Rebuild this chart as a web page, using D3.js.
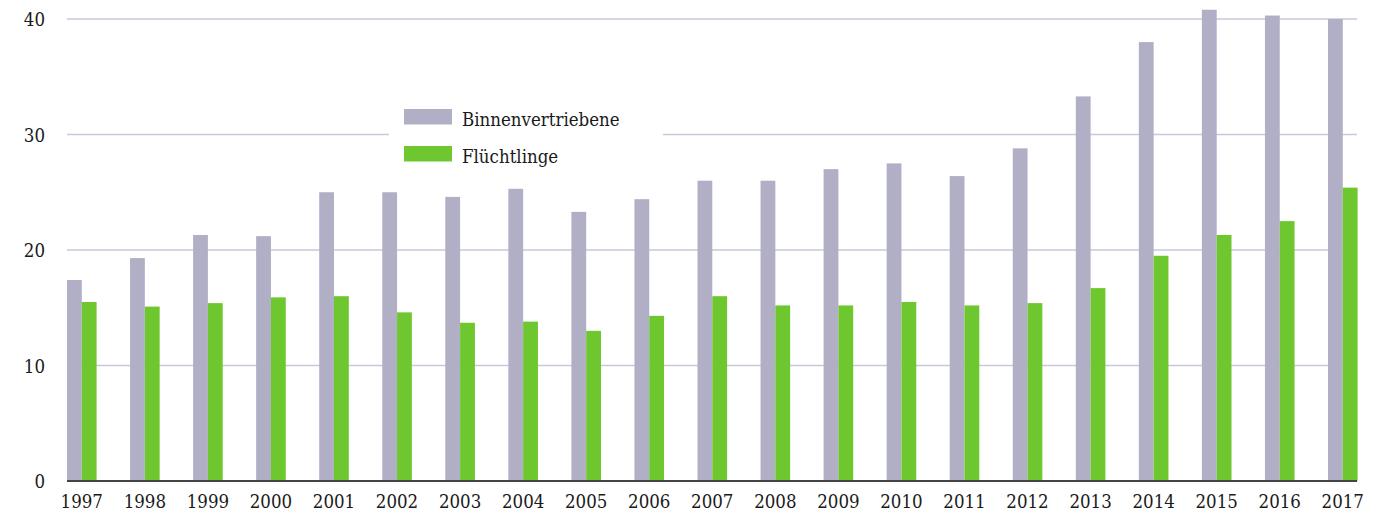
<!DOCTYPE html>
<html>
<head>
<meta charset="utf-8">
<script src="https://cdn.jsdelivr.net/npm/d3@7"></script>
<style>
  body { margin: 0; background: #fff; }
  svg text { font-family: "DejaVu Serif Condensed", "DejaVu Serif", serif; font-stretch: condensed; fill: #1a1a1a; }
</style>
</head>
<body>
<div id="chart"></div>
<script>
const years = d3.range(1997, 2018).map(String);
const binnen = [17.4, 19.3, 21.3, 21.2, 25.0, 25.0, 24.6, 25.3, 23.3, 24.4, 26.0, 26.0, 27.0, 27.5, 26.4, 28.8, 33.3, 38.0, 40.8, 40.3, 40.0];
const fluecht = [15.5, 15.1, 15.4, 15.9, 16.0, 14.6, 13.7, 13.8, 13.0, 14.3, 16.0, 15.2, 15.2, 15.5, 15.2, 15.4, 16.7, 19.5, 21.3, 22.5, 25.4];
const seriesNames = ["Binnenvertriebene", "Flüchtlinge"];
const colors = ["#b1afc6", "#6ec72e"];
const yTicks = [0, 10, 20, 30, 40];

const width = 1375, height = 515;
const margin = {top: 19, right: 18, bottom: 34, left: 67};
const step = 63.05;
const fontSize = 18.5;

const data = years.map((y, i) => ({year: y, values: [binnen[i], fluecht[i]]}));

const x = d3.scaleBand()
    .domain(years)
    .range([margin.left, margin.left + step * years.length])
    .padding(0);

const x1 = d3.scaleBand()
    .domain([0, 1])
    .range([0, 29.6]);

const y = d3.scaleLinear()
    .domain([0, 40])
    .range([height - margin.bottom, margin.top]);

const svg = d3.select("#chart").append("svg")
    .attr("width", width)
    .attr("height", height);

// gridlines
svg.append("g")
  .selectAll("line")
  .data(yTicks.filter(d => d > 0))
  .join("line")
    .attr("x1", margin.left)
    .attr("x2", width - margin.right)
    .attr("y1", d => y(d))
    .attr("y2", d => y(d))
    .attr("stroke", "#c9c7da")
    .attr("stroke-width", 1.5);

// y labels
svg.append("g")
  .selectAll("text")
  .data(yTicks)
  .join("text")
    .attr("x", 45)
    .attr("y", d => y(d) + 7)
    .attr("text-anchor", "end")
    .attr("font-size", fontSize)
    .text(d => d);

// legend (white box covers gridline)
const legend = svg.append("g");
legend.append("rect")
    .attr("x", 389).attr("y", 100)
    .attr("width", 274).attr("height", 70)
    .attr("fill", "#fff");
seriesNames.forEach((name, i) => {
  legend.append("rect")
      .attr("x", 404).attr("y", 109 + i * 37)
      .attr("width", 48).attr("height", 15.5)
      .attr("fill", colors[i]);
  legend.append("text")
      .attr("x", 462).attr("y", 125.5 + i * 37)
      .attr("font-size", fontSize)
      .text(name);
});

// bars
svg.append("g")
  .selectAll("g")
  .data(data)
  .join("g")
    .attr("transform", d => `translate(${x(d.year)},0)`)
  .selectAll("rect")
  .data(d => d.values.map((v, k) => ({k, v})))
  .join("rect")
    .attr("x", d => x1(d.k))
    .attr("y", d => y(d.v))
    .attr("width", x1.bandwidth())
    .attr("height", d => y(0) - y(d.v))
    .attr("fill", d => colors[d.k]);

// baseline
svg.append("line")
    .attr("x1", margin.left)
    .attr("x2", width - margin.right)
    .attr("y1", y(0))
    .attr("y2", y(0))
    .attr("stroke", "#444")
    .attr("stroke-width", 2);

// x labels
svg.append("g")
  .selectAll("text")
  .data(years)
  .join("text")
    .attr("x", d => x(d) + 14.8)
    .attr("y", y(0) + 27)
    .attr("text-anchor", "middle")
    .attr("font-size", fontSize)
    .text(d => d);
</script>
</body>
</html>
